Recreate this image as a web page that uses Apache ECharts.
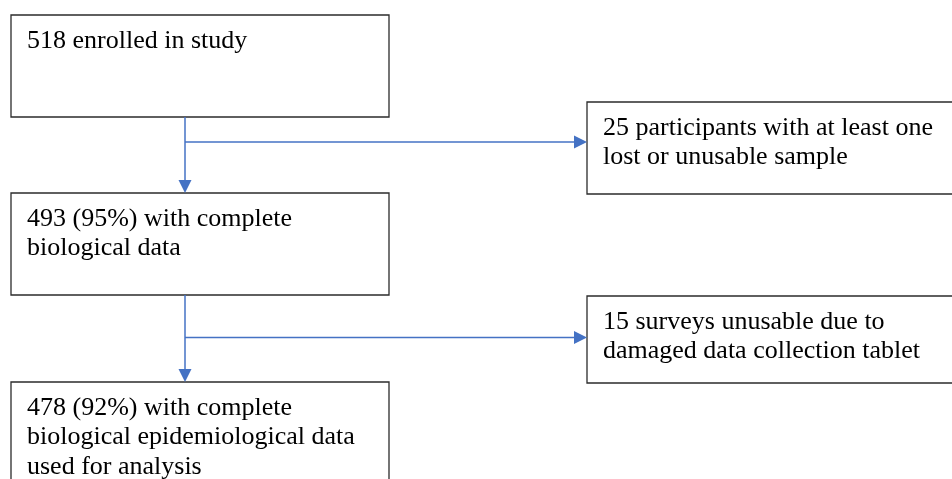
<!DOCTYPE html>
<html>
<head>
<meta charset="utf-8">
<script src="https://cdn.jsdelivr.net/npm/echarts@6/dist/echarts.min.js"></script>
<style>
html,body{margin:0;padding:0;background:#fff;}
#main{width:952px;height:479px;}
</style>
</head>
<body>
<div id="main"></div>
<script>
// Flowchart content
const stepTexts = [
  "518 enrolled in study",
  "493 (95%) with complete\nbiological data",
  "478 (92%) with complete\nbiological epidemiological data\nused for analysis"
];
const exclusionTexts = [
  "25 participants with at least one\nlost or unusable sample",
  "15 surveys unusable due to\ndamaged data collection tablet"
];

// Layout (pixels)
const mainBoxes = [
  {x: 11, y: 15, w: 378, h: 102},
  {x: 11, y: 193, w: 378, h: 102},
  {x: 11, y: 382, w: 378, h: 110}
];
const sideBoxes = [
  {x: 587, y: 102, w: 370, h: 92},
  {x: 587, y: 296, w: 370, h: 87}
];
const spineX = 185;
const branchY = [142, 337.5];

const FONT = "26px 'Liberation Serif', 'Times New Roman', serif";
const LINE = '#4472C4';
const BORDER = '#2b2b2b';

const chart = echarts.init(document.getElementById('main'), null, {renderer: 'canvas'});
const g = [];

function box(b, text) {
  g.push({type: 'rect', shape: {x: b.x, y: b.y, width: b.w, height: b.h},
    style: {fill: '#fff', stroke: BORDER, lineWidth: 1.3}, z: 1});
  g.push({type: 'text', x: b.x + 16, y: b.y + 11,
    style: {text: text, font: FONT, fill: '#000', lineHeight: 29.5, textVerticalAlign: 'top', verticalAlign: 'top'}, z: 3});
}
mainBoxes.forEach((b, i) => box(b, stepTexts[i]));
sideBoxes.forEach((b, i) => box(b, exclusionTexts[i]));

const AH = 13, AW = 6.5;
function downArrow(x, y1, y2) {
  g.push({type: 'line', shape: {x1: x, y1: y1, x2: x, y2: y2 - AH + 1}, style: {stroke: LINE, lineWidth: 1.5}, z: 2});
  g.push({type: 'polygon', shape: {points: [[x - AW, y2 - AH], [x + AW, y2 - AH], [x, y2]]}, style: {fill: LINE}, z: 2});
}
function rightArrow(x1, x2, y) {
  g.push({type: 'line', shape: {x1: x1, y1: y, x2: x2 - AH + 1, y2: y}, style: {stroke: LINE, lineWidth: 1.5}, z: 2});
  g.push({type: 'polygon', shape: {points: [[x2 - AH, y - AW], [x2 - AH, y + AW], [x2, y]]}, style: {fill: LINE}, z: 2});
}
for (let i = 0; i < 2; i++) {
  downArrow(spineX, mainBoxes[i].y + mainBoxes[i].h, mainBoxes[i + 1].y);
  rightArrow(spineX, sideBoxes[i].x, branchY[i]);
}

chart.setOption({animation: false, backgroundColor: '#fff', graphic: {elements: g}});
</script>
</body>
</html>
